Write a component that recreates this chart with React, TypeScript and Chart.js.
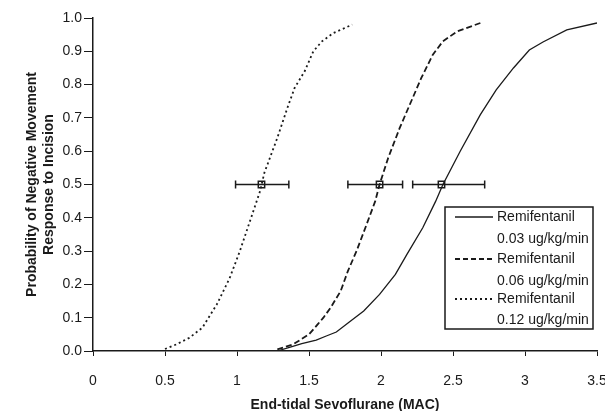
import React, { useEffect, useRef } from "react";
import { Chart, registerables } from "chart.js";

Chart.register(...registerables);

const solidX = [1.28, 1.37, 1.45, 1.55, 1.62, 1.69, 1.78, 1.88, 1.99, 2.1, 2.18, 2.29, 2.38, 2.43, 2.55, 2.69, 2.8, 2.92, 3.03, 3.125, 3.29, 3.5];
const solidY = [0, 0.012, 0.022, 0.033, 0.045, 0.057, 0.087, 0.12, 0.17, 0.23, 0.29, 0.37, 0.45, 0.5, 0.6, 0.71, 0.784, 0.85, 0.904, 0.928, 0.964, 0.985];

const dashedX = [1.28, 1.39, 1.5, 1.56, 1.6, 1.65, 1.72, 1.77, 1.83, 1.9, 1.96, 1.99, 2.05, 2.13, 2.22, 2.28, 2.36, 2.43, 2.53, 2.69];
const dashedY = [0.005, 0.02, 0.05, 0.08, 0.1, 0.13, 0.18, 0.24, 0.3, 0.38, 0.45, 0.5, 0.58, 0.67, 0.76, 0.82, 0.89, 0.93, 0.96, 0.985];

const dottedX = [0.5, 0.58, 0.67, 0.76, 0.86, 0.95, 1.02, 1.09, 1.16, 1.19, 1.28, 1.35, 1.4, 1.47, 1.53, 1.59, 1.67, 1.8];
const dottedY = [0.006, 0.02, 0.04, 0.07, 0.14, 0.22, 0.3, 0.39, 0.48, 0.535, 0.64, 0.73, 0.79, 0.84, 0.9, 0.93, 0.955, 0.98];

// error bars at p = 0.5: [center, low, high]
const errCenters = [1.17, 1.99, 2.42];
const errLows = [0.99, 1.77, 2.22];
const errHighs = [1.36, 2.15, 2.72];
const errY = 0.5;

const legendTitles = ["Remifentanil", "Remifentanil", "Remifentanil"];
const legendDoses = ["0.03 ug/kg/min", "0.06 ug/kg/min", "0.12 ug/kg/min"];
const legendDashes: number[][] = [[], [5, 3], [2, 3]];

const xTitle = "End-tidal Sevoflurane (MAC)";
const yTitle = ["Probability of Negative Movement", "Response to Incision"];

const FONT = "'Liberation Sans', Arial, sans-serif";
const INK = "#1a1a1a";

const toPts = (xs: number[], ys: number[]) => xs.map((x, i) => ({ x, y: ys[i] }));

const legendPlugin = {
  id: "customLegend",
  afterDraw(chart: any) {
    const ctx = chart.ctx;
    ctx.save();
    const bx = 445, by = 207, bw = 148, bh = 122;
    ctx.fillStyle = "#fff";
    ctx.fillRect(bx, by, bw, bh);
    ctx.strokeStyle = INK;
    ctx.lineWidth = 1.5;
    ctx.strokeRect(bx, by, bw, bh);
    const rows = [[217, 239], [259, 281], [299, 320]];
    ctx.font = `14px ${FONT}`;
    ctx.textBaseline = "middle";
    ctx.textAlign = "left";
    rows.forEach((r, i) => {
      ctx.beginPath();
      ctx.setLineDash(legendDashes[i]);
      ctx.lineWidth = i === 0 ? 1.3 : 1.8;
      ctx.moveTo(455, r[0]);
      ctx.lineTo(493, r[0]);
      ctx.stroke();
      ctx.setLineDash([]);
      ctx.fillStyle = INK;
      ctx.fillText(legendTitles[i], 497, r[0]);
      ctx.fillText(legendDoses[i], 497, r[1]);
    });
    ctx.restore();
  },
};

export default function App() {
  const ref = useRef<HTMLCanvasElement | null>(null);
  useEffect(() => {
    if (!ref.current) return;
    Chart.defaults.font.family = FONT;
    Chart.defaults.color = INK;
    const curve = (data: any, dash: number[], w: number) => ({
      data,
      showLine: true,
      borderColor: INK,
      borderWidth: w,
      borderDash: dash,
      pointRadius: 0,
      tension: 0,
      fill: false,
    });
    const errDatasets: any[] = [];
    errCenters.forEach((c, i) => {
      errDatasets.push({
        data: [
          { x: errLows[i], y: errY },
          { x: errHighs[i], y: errY },
        ],
        showLine: true,
        borderColor: INK,
        borderWidth: 1.5,
        pointStyle: "line",
        rotation: 90,
        pointRadius: 4,
        pointBorderWidth: 1.5,
        pointBorderColor: INK,
      });
    });
    errDatasets.push({
      data: errCenters.map((c) => ({ x: c, y: errY })),
      showLine: false,
      pointStyle: "rect",
      pointRadius: 4.5,
      pointBackgroundColor: "#fff",
      pointBorderColor: INK,
      pointBorderWidth: 1.5,
    });
    const chart = new Chart(ref.current, {
      type: "scatter",
      data: {
        datasets: [
          curve(toPts(solidX, solidY), [], 1.3),
          curve(toPts(dashedX, dashedY), [6, 3], 1.8),
          curve(toPts(dottedX, dottedY), [2, 3], 1.8),
          ...errDatasets,
        ],
      },
      options: {
        responsive: false,
        animation: false,
        layout: { padding: { left: 0, right: 8, top: 18, bottom: 0 } },
        plugins: { legend: { display: false }, tooltip: { enabled: false } },
        scales: {
          x: {
            type: "linear",
            min: 0,
            max: 3.5,
            ticks: { stepSize: 0.5, font: { size: 14 }, color: INK, padding: 17, callback: (v: any) => String(Number(v)) },
            border: { color: INK, width: 1.5 },
            grid: { display: true, drawOnChartArea: false, drawTicks: true, tickLength: 5, color: INK, lineWidth: 1 },
            title: { display: true, text: xTitle, font: { size: 14, weight: "bold" }, color: INK, padding: { top: 0, bottom: -3 } },
            afterFit: (s: any) => {
              s.height = 60;
              s.paddingRight = 0;
            },
          },
          y: {
            type: "linear",
            min: 0,
            max: 1,
            ticks: { stepSize: 0.1, font: { size: 14 }, color: INK, padding: 2, callback: (v: any) => Number(v).toFixed(1) },
            border: { color: INK, width: 1.5 },
            grid: { display: true, drawOnChartArea: false, drawTicks: true, tickLength: 9, color: INK, lineWidth: 1 },
            title: { display: true, text: yTitle, font: { size: 14, weight: "bold" }, color: INK, padding: { top: 24, bottom: 0 } },
            afterFit: (s: any) => {
              s.width = 93;
            },
          },
        },
      },
      plugins: [legendPlugin],
    } as any);
    return () => chart.destroy();
  }, []);
  return (
    <div style={{ position: "absolute", left: 0, top: 0, width: 605, height: 411, background: "#fff" }}>
      <canvas ref={ref} width={605} height={411} />
    </div>
  );
}
